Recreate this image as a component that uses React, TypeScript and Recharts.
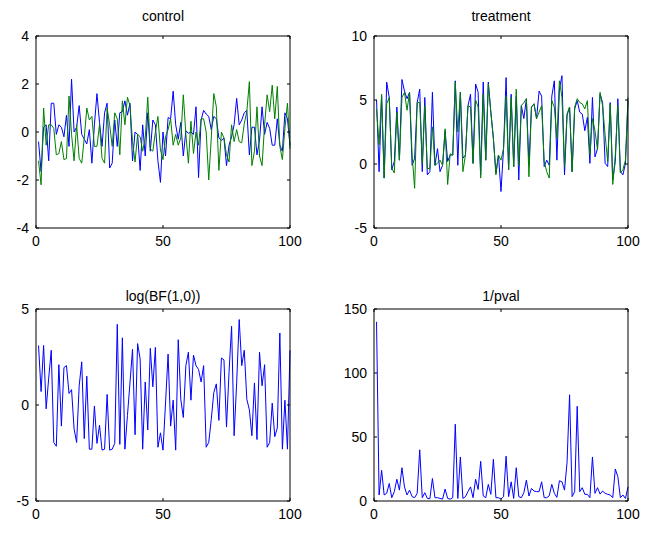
import { LineChart, Line, XAxis, YAxis } from "recharts";

const FONT = "'Liberation Sans', Arial, Helvetica, sans-serif";
const TICK_LEN = 3;
const BLUE = "#0000ff";
const GREEN = "#008000";

// x runs 1..100 in every panel
const xTicks = [0, 50, 100];

// control: two series
const controlBlue = [
  -0.4, -1.65, 0.2, 0.3, -1.2, 1.2, 1.2, -0.1, 0.3, 0.2,
  -0.2, 0.7, -0.6, 2.2, 0.0, 0.2, 1.1, -0.1, -0.3, -0.5,
  0.1, -1.3, 0.3, 1.6, 0.4, -0.6, 0.8, 1.2, -1.5, -1.3,
  0.5, -0.6, 0.8, 0.85, 1.3, 0.7, 1.2, -1.2, 0, -0.1,
  -1.6, 0.3, -1.0, 0.8, -0.8, 0.5, 0.3, -1.2, -2.1, 0,
  -1.0, 0.6, 0.55, 1.7, 0.3, -0.3, 0.4, -1.0, 0.05, -0.05,
  0, -0.1, 1.05, -1.9, 0.5, 0.9, 0.75, 0.65, 0.1, 0.65,
  0.55, -0.25, -0.35, -0.25, -1.4, -0.55, -0.2, 0.3, 1.4, 0.3,
  0.5, 0.8, 0.9, -0.95, 0.2, 0.2, -0.95, -0.35, 1.05, -0.1,
  0.4, 0.15, -0.55, -0.55, 0.55, -0.55, -0.8, 0.8, 0.55, -0.55,
];
const controlGreen = [
  -1.2, -2.2, 1.0, -0.55, 0.3, 0.3, 0.15, -0.95, -0.9, -0.4,
  -1.15, -1.1, 1.5, -0.1, -1.2, 0.3, -1.1, -1.3, -0.25, 1.0,
  0.5, 0.65, -0.6, -0.6, 0.3, -1.1, -1.3, 1.0, 0.3, -0.6,
  0.8, 0.55, -0.95, 1.3, 0.3, 1.45, 1.1, -0.4, -1.25, -0.1,
  -0.2, -0.8, -0.25, 1.45, -0.7, -0.8, 0, 0.65, -0.75, -1.15,
  -0.2, 0.1, 0.55, -0.55, -0.1, -0.55, -0.25, 1.55, -0.1, -1.3,
  0.45, -0.9, 0, -0.55, 0.55, 0.55, 0, -2.0, -0.25, 1.6,
  1.05, -1.6, 0, -0.25, -0.95, -1.25, 0.3, -0.4, 0.1, -0.4,
  -0.45, 0.35, 0.85, 2.1, -1.4, -0.8, 1.05, -1.0, -1.4, 0.3,
  1.55, 0.85, 1.95, 0.55, 1.9, -0.6, -1.15, 0.15, 1.2, -0.7,
];

// treatment: two series
const treatBlue = [
  5.0, -0.6, 5.3, -1.1, 6.4, 5.2, -0.45, 0.2, 4.45, 0.3,
  6.6, 5.7, 5.1, 5.6, -0.1, 0.45, 4.8, 5.85, -0.6, 5.2,
  -0.85, -0.6, 5.6, -0.1, 1.2, -0.6, -0.1, 2.6, 0.2, 0.7,
  0.7, 6.5, -0.1, 5.6, 0.45, 0.7, 4.55, 5.45, 0.05, 6.25,
  5.6, -0.85, 6.4, 0.3, 6.4, 4.05, 2.0, -0.7, 0.7, -2.15,
  1.2, 6.75, -0.45, 5.45, -0.2, 5.3, -1.25, 4.55, 3.55, 5.1,
  -0.1, 4.45, 4.7, 3.55, 5.7, 5.3, -0.2, 0.3, -0.1, 5.3,
  6.5, 0.3, 5.85, 6.9, -0.85, 3.8, 4.45, -0.6, 4.3, 4.95,
  4.05, 3.9, 2.6, 3.65, 0.05, 5.2, 0.55, 1.2, 5.45, 4.8,
  0.05, -0.2, 4.8, -1.25, 0.2, 5.1, -0.6, -0.85, 0.05, 4.95,
];
const treatGreen = [
  4.3, 1.5, 5.45, -1.1, 4.7, 5.2, -0.35, -0.7, 4.05, 0.3,
  5.2, 5.6, 4.2, 5.6, 0.7, -1.9, 4.8, 4.8, 0.05, 4.55,
  -0.35, -0.35, 2.9, -0.1, 0.05, 0.3, -0.1, 2.75, -1.6, 0.8,
  0.7, 6.4, 2.5, 5.6, -0.6, 0.7, 4.55, 4.45, 0.05, 5.0,
  4.45, -1.1, 5.45, 0.3, 6.25, 4.05, 2.0, -0.85, 0.7, 0.3,
  1.2, 5.3, -0.45, 5.2, -0.2, 5.85, -0.1, 4.55, 4.8, 5.1,
  -1.0, 4.45, 4.7, 3.55, 4.05, 4.55, 0.2, -0.6, -1.1, 4.95,
  4.45, 2.0, 6.5, 5.2, -0.2, 3.9, 4.45, -0.6, 4.45, 5.1,
  4.8, 4.7, 4.3, 4.95, 0.7, 3.55, 2.6, 1.1, 5.6, 4.55,
  2.25, 0.2, 4.7, -1.6, 0.7, 4.55, -0.7, -0.45, 0.3, 5.2,
];

// log(BF(1,0))
const logBF = [
  3.1, 0.7, 3.1, -0.2, 1.4, 2.85, -1.95, -2.15, 2.1, -1.1,
  1.95, 2.05, 0.6, 0.8, -1.25, -1.95, 1.0, 2.25, -1.75, 1.5,
  -2.3, -2.3, -0.05, -2.0, -1.05, -2.35, -2.3, 0.55, -2.35, -2.3,
  -2.0, 4.2, -2.05, 3.5, -2.3, -0.55, 1.15, 2.9, -1.55, 3.2,
  2.4, -2.3, 1.2, -1.3, 2.95, 0.95, 3.0, -2.2, -1.45, -2.35,
  0.1, 2.65, -1.1, 0.25, -2.35, 3.4, 0.3, -0.65, 2.05, 2.75,
  0.25, 2.6, 2.05, 1.85, 1.2, 2.05, -2.2, -1.95, -0.75, 0.65,
  1.1, -0.8, 2.45, 2.35, -1.15, 1.7, 4.1, -1.6, 1.15, 4.45,
  2.05, 2.85, 0.3, -0.25, -1.6, 1.15, -1.8, 2.75, 1.0, 2.1,
  -2.2, -1.95, 0.1, -1.65, -1.2, 3.75, -2.3, 0.25, -2.3, 2.85,
];

// 1/pval
const invPval = [
  140, 4.7, 24, 4.7, 6, 13.7, 2.6, 7.3, 17, 8.5,
  26, 11, 4.7, 8.5, 3.4, 2.6, 6, 40, 2.6, 6.5,
  2, 1.8, 17.6, 2.6, 2.6, 2, 1.5, 9.3, 2, 1.5,
  2.6, 60, 2, 34.4, 2, 3.4, 7.3, 11, 2.6, 17,
  9, 31, 4, 2.6, 13, 5.2, 32.6, 2.6, 2.6, 1.5,
  3.4, 35, 3.4, 15, 2, 26, 3.4, 2.6, 6.5, 16.3,
  3.9, 9.8, 7.8, 7.3, 7.3, 15, 2.6, 2.6, 4.1, 13,
  6, 2.8, 15.8, 15, 8.5, 30, 83, 3.4, 7.3, 74,
  7.3, 10.4, 5.2, 5.2, 2.6, 34.4, 6, 10.4, 5.4, 7.8,
  6, 5.2, 4.7, 2.6, 25, 19, 2.6, 4.7, 2, 11,
];

const PW = 254;
const PH = 192;
const ML = 40;
const MT = 30;
const MR = 20;
const MB = 30;
const X_MARGIN = 8;
const Y_MARGIN = 7;

const textProps = { fontSize: 14, fontFamily: FONT, fill: "#000" };

const bottomTick = (props: any) => {
  const { x, y, payload } = props;
  const ay = y - X_MARGIN;
  return (
    <g>
      <line x1={x} x2={x} y1={ay} y2={ay - TICK_LEN} stroke="#000" />
      <text x={x} y={y} dy="0.71em" textAnchor="middle" {...textProps}>
        {payload.value}
      </text>
    </g>
  );
};

const leftTick = (props: any) => {
  const { x, y, payload } = props;
  const ax = x + Y_MARGIN;
  return (
    <g>
      <line x1={ax} x2={ax + TICK_LEN} y1={y} y2={y} stroke="#000" />
      <text x={x} y={y} dy="0.35em" textAnchor="end" {...textProps}>
        {payload.value}
      </text>
    </g>
  );
};

const topTick = (props: any) => {
  const { x, y } = props;
  return <line x1={x} x2={x} y1={y} y2={y + TICK_LEN} stroke="#000" />;
};

const rightTick = (props: any) => {
  const { x, y } = props;
  return <line x1={x} x2={x - TICK_LEN} y1={y} y2={y} stroke="#000" />;
};

interface PanelProps {
  left: number;
  top: number;
  title: string;
  titleY: number;
  series: number[][];
  colors: string[];
  yDomain: [number, number];
  yTicks: number[];
}

function Panel({ left, top, title, titleY, series, colors, yDomain, yTicks }: PanelProps) {
  const rows = series[0].map((_, i) => {
    const r: any = { x: i + 1 };
    series.forEach((s, k) => (r["s" + k] = s[i]));
    return r;
  });
  const W = PW + ML + MR;
  const H = PH + MT + MB;
  return (
    <>
      <div
        style={{
          position: "absolute",
          left,
          width: PW,
          top: titleY - 9,
          lineHeight: "18px",
          fontSize: 14,
          fontFamily: FONT,
          textAlign: "center",
          color: "#000",
        }}
      >
        {title}
      </div>
      <div style={{ position: "absolute", left: left - ML, top: top - MT, width: W, height: H }}>
        <LineChart
          width={W}
          height={H}
          data={rows}
          margin={{ top: MT - 1, left: ML - 30, right: MR - 1, bottom: MB - 20 }}
        >
          <XAxis
            xAxisId="b"
            dataKey="x"
            type="number"
            domain={[0, 100]}
            ticks={xTicks}
            interval={0}
            height={20}
            tickSize={0}
            tickMargin={X_MARGIN}
            tick={bottomTick}
            axisLine={{ stroke: "#000" }}
          />
          <XAxis
            xAxisId="t"
            orientation="top"
            dataKey="x"
            type="number"
            domain={[0, 100]}
            ticks={xTicks}
            interval={0}
            height={1}
            tickSize={0}
            tickMargin={0}
            tick={topTick}
            axisLine={{ stroke: "#000" }}
          />
          <YAxis
            yAxisId="l"
            type="number"
            domain={yDomain}
            ticks={yTicks}
            interval={0}
            width={30}
            tickSize={0}
            tickMargin={Y_MARGIN}
            tick={leftTick}
            axisLine={{ stroke: "#000" }}
            allowDataOverflow
          />
          <YAxis
            yAxisId="r"
            orientation="right"
            type="number"
            domain={yDomain}
            ticks={yTicks}
            interval={0}
            width={1}
            tickSize={0}
            tickMargin={0}
            tick={rightTick}
            axisLine={{ stroke: "#000" }}
            allowDataOverflow
          />
          {series.map((_, k) => (
            <Line
              key={k}
              xAxisId="b"
              yAxisId="l"
              dataKey={"s" + k}
              stroke={colors[k]}
              strokeWidth={1}
              dot={false}
              activeDot={false}
              isAnimationActive={false}
            />
          ))}
        </LineChart>
      </div>
    </>
  );
}

export default function App() {
  return (
    <div
      style={{
        position: "absolute",
        left: 0,
        top: 0,
        width: 647,
        height: 533,
        background: "#fff",
      }}
    >
      <Panel
        left={36}
        top={36}
        title="control"
        titleY={16}
        series={[controlBlue, controlGreen]}
        colors={[BLUE, GREEN]}
        yDomain={[-4, 4]}
        yTicks={[-4, -2, 0, 2, 4]}
      />
      <Panel
        left={374}
        top={36}
        title="treatment"
        titleY={16}
        series={[treatBlue, treatGreen]}
        colors={[BLUE, GREEN]}
        yDomain={[-5, 10]}
        yTicks={[-5, 0, 5, 10]}
      />
      <Panel
        left={36}
        top={309}
        title="log(BF(1,0))"
        titleY={296}
        series={[logBF]}
        colors={[BLUE]}
        yDomain={[-5, 5]}
        yTicks={[-5, 0, 5]}
      />
      <Panel
        left={374}
        top={309}
        title="1/pval"
        titleY={296}
        series={[invPval]}
        colors={[BLUE]}
        yDomain={[0, 150]}
        yTicks={[0, 50, 100, 150]}
      />
    </div>
  );
}
